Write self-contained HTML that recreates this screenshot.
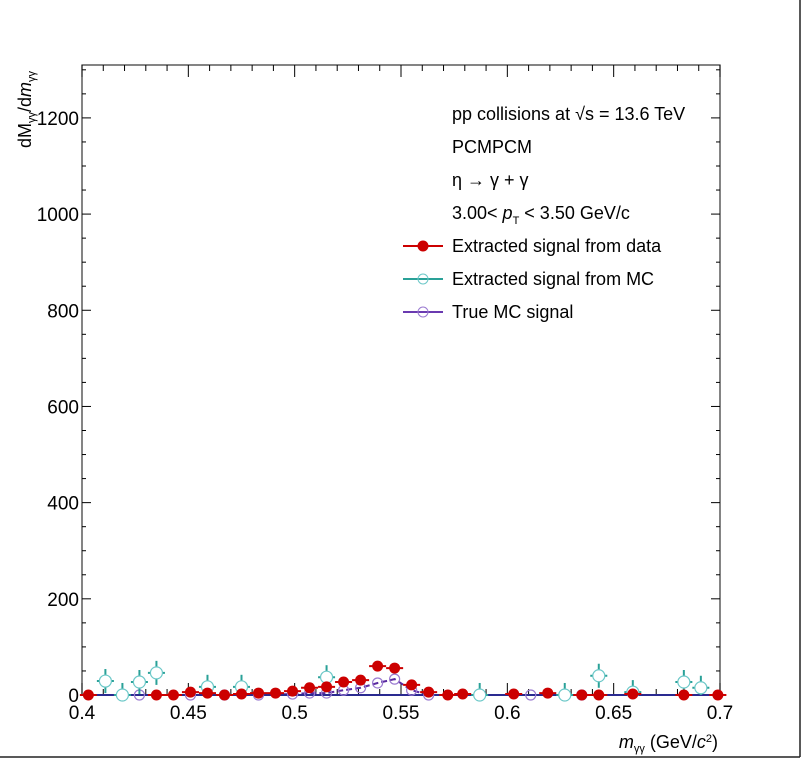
<!DOCTYPE html>
<html><head><meta charset="utf-8"><style>
body{margin:0;background:#fff}
svg{display:block;font-family:"Liberation Sans",sans-serif}
</style></head><body>
<svg id="c" width="808" height="762" xmlns="http://www.w3.org/2000/svg">
<line x1="800" y1="0" x2="800" y2="757" stroke="#222" stroke-width="1.5"/>
<line x1="0" y1="757" x2="800" y2="757" stroke="#222" stroke-width="1.5"/>
<g id="axes"></g>
<g id="marks"></g>
<text x="718" y="748" font-size="18" text-anchor="end"><tspan font-style="italic">m</tspan><tspan font-size="11" dy="4">γγ</tspan><tspan dy="-4"> (GeV/</tspan><tspan font-style="italic">c</tspan><tspan font-size="11" dy="-6">2</tspan><tspan dy="6">)</tspan></text>
<text transform="translate(31,148) rotate(-90)" font-size="18">dM<tspan font-size="11" dy="4">γγ</tspan><tspan dy="-4">/d</tspan><tspan font-style="italic">m</tspan><tspan font-size="11" dy="4">γγ</tspan></text>
<g font-size="18">
<text x="452" y="120">pp collisions at √s = 13.6 TeV</text>
<text x="452" y="153">PCMPCM</text>
<text x="452" y="186">η → γ + γ</text>
<text x="452" y="219">3.00&lt; <tspan font-style="italic">p</tspan><tspan font-size="11" dy="5">T</tspan><tspan dy="-5"> &lt; 3.50 GeV/c</tspan></text>
<g><line x1="403" y1="246" x2="443" y2="246" stroke="#cc0000" stroke-width="2"/><circle cx="423" cy="246" r="5.5" fill="#cc0000"/><text x="452" y="252">Extracted signal from data</text></g>
<g><line x1="403" y1="279" x2="443" y2="279" stroke="#2aa198" stroke-width="2"/><circle cx="423" cy="279" r="5" fill="none" stroke="#6cc8c8"/><text x="452" y="285">Extracted signal from MC</text></g>
<g><line x1="403" y1="312" x2="443" y2="312" stroke="#6a3ab0" stroke-width="2"/><circle cx="423" cy="312" r="5" fill="none" stroke="#9a7ad0"/><text x="452" y="318">True MC signal</text></g>
</g>
</svg>
<script>
const dataX=[0.403,0.435,0.443,0.451,0.459,0.467,0.475,0.483,0.491,0.499,0.507,0.515,0.523,0.531,0.539,0.547,0.555,0.563,0.572,0.579,0.603,0.619,0.635,0.643,0.659,0.683,0.699];
const dataY=[0,0,0,6,4,0,2,4,4,8,15,17,27,31,60,56,21,6,0,2,2,4,0,0,2,0,0];
const mcX=[0.411,0.419,0.427,0.435,0.459,0.475,0.515,0.587,0.627,0.643,0.659,0.683,0.691];
const mcY=[29,0,27,46,17,17,37,0,0,40,6,27,15];
const trueX=[0.427,0.451,0.467,0.483,0.499,0.507,0.515,0.523,0.531,0.539,0.547,0.555,0.563,0.611,0.635];
const trueY=[0,0,0,0,2,4,4,10,15,25,33,10,0,0,0];
const xTicks=[0.4,0.45,0.5,0.55,0.6,0.65,0.7];
const xTickLabels=["0.4","0.45","0.5","0.55","0.6","0.65","0.7"];
const yTicks=[0,200,400,600,800,1000,1200];
const yTickLabels=["0","200","400","600","800","1000","1200"];
const X0=82,X1=720,Y0=695,Y1=65,xmin=0.4,xmax=0.7,ymin=0,ymax=1310;
const sx=v=>X0+(v-xmin)/(xmax-xmin)*(X1-X0);
const sy=v=>Y0-(v-ymin)/(ymax-ymin)*(Y0-Y1);
const NS="http://www.w3.org/2000/svg";
function mk(tag,attrs,parent){const e=document.createElementNS(NS,tag);for(const k in attrs)e.setAttribute(k,attrs[k]);parent.appendChild(e);return e;}
const ax=document.getElementById('axes'),mk_=document.getElementById('marks');
const frame=mk('rect',{x:X0,y:Y1,width:X1-X0,height:Y0-Y1,fill:'none',stroke:'#333','stroke-width':1.2},ax);


for(let v=0.4;v<=0.7001;v+=0.01){const x=sx(v);const major=Math.abs(Math.round(v*100)%5)==0;const l=major?12:6;
 const t=mk('line',{x1:x,y1:Y0,x2:x,y2:Y0-l,stroke:'#000'},ax);
 const t2=mk('line',{x1:x,y1:Y1,x2:x,y2:Y1+l,stroke:'#000'},ax);}
xTicks.forEach((v,i)=>{const t=mk('text',{x:sx(v),y:Y0+24,'font-size':19,'text-anchor':'middle'},ax);t.textContent=xTickLabels[i];});
for(let v=0;v<=1300;v+=50){const y=sy(v);const l=(v%200==0)?9:4;
 const t=mk('line',{x1:X0,y1:y,x2:X0+l,y2:y,stroke:'#000'},ax);
 const t2=mk('line',{x1:X1,y1:y,x2:X1-l,y2:y,stroke:'#000'},ax);}
yTicks.forEach((v,i)=>{const t=mk('text',{x:X0-3,y:sy(v)+7,'font-size':19,'text-anchor':'end'},ax);t.textContent=yTickLabels[i];});
const tl=mk('polyline',{points:trueX.map((x,i)=>sx(x)+','+sy(trueY[i])).join(' '),fill:'none',stroke:'#5a2aa0','stroke-width':2,'stroke-dasharray':'6,3'},mk_);


const base=mk('line',{x1:sx(0.4),y1:sy(0),x2:sx(0.7),y2:sy(0),stroke:'#2a2a90','stroke-width':2},mk_);


trueX.forEach((x,i)=>{const c=mk('circle',{cx:sx(x),cy:sy(trueY[i]),r:5,fill:'none',stroke:'#9a7ad0','stroke-width':1.2},mk_);
 
 });
mcX.forEach((x,i)=>{const g=mk('g',{},mk_);
 
 
 const cx=sx(x),cy=sy(mcY[i]);
 mk('line',{x1:cx,y1:sy(Math.max(0,mcY[i]-25)),x2:cx,y2:sy(mcY[i]+25),stroke:'#2aa198','stroke-width':2},g);
 mk('line',{x1:sx(x-0.004),y1:cy,x2:sx(x+0.004),y2:cy,stroke:'#2aa198','stroke-width':2},g);
 mk('circle',{cx:cx,cy:cy,r:6,fill:'#fff',stroke:'#6cc8c8','stroke-width':1.2},g);});
dataX.forEach((x,i)=>{const g=mk('g',{},mk_);
 
 
 const cx=sx(x),cy=sy(dataY[i]);
 mk('line',{x1:sx(x-0.004),y1:cy,x2:sx(x+0.004),y2:cy,stroke:'#cc0000','stroke-width':2},g);
 mk('circle',{cx:cx,cy:cy,r:5.5,fill:'#cc0000'},g);});
</script>
</body></html>
